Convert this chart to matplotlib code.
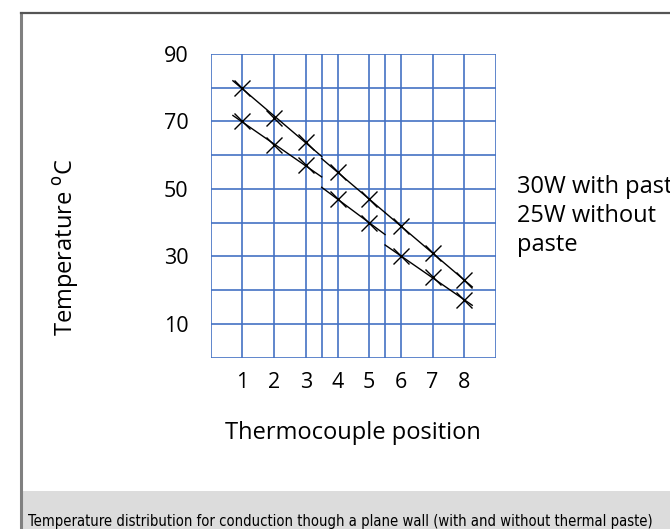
import numpy as np
import matplotlib.pyplot as plt
from matplotlib.patches import Rectangle
from matplotlib.lines import Line2D

# thermocouple positions and temperatures (deg C)
positions = [1, 2, 3, 4, 5, 6, 7, 8]
temp_paste = [80, 71, 64, 55, 47, 39, 31, 23]      # 30W with paste
temp_nopaste = [70, 63, 57, 47, 40, 30, 24, 17]    # 25W without paste

# wall layers: points in each layer and where its trend line runs
layer_points = [[0, 1, 2], [3, 4], [5, 6, 7]]
layer_bounds = [0.7, 3.5, 5.5, 8.25]

y_ticks = [10, 30, 50, 70, 90]
caption = 'Temperature distribution for conduction though a plane wall (with and without thermal paste)'

plt.rcParams['font.family'] = ['Open Sans', 'DejaVu Sans']

fig = plt.figure(figsize=(6.7, 5.29), dpi=100)
ax = fig.add_axes([0.3145, 0.3238, 0.4258, 0.5741])

grid_col = '#4472c4'
for v in np.arange(0, 91, 10):
    ax.axhline(v, color=grid_col, lw=1.2, zorder=1)
for v in list(range(0, 10)) + [3.5, 5.5]:
    ax.axvline(v, color=grid_col, lw=1.2, zorder=1)

x = np.array(positions)
for temps in (temp_paste, temp_nopaste):
    t = np.array(temps)
    ax.plot(x, t, linestyle='none', marker='x', ms=11, mew=1.0,
            color='black', zorder=3)
    for k, idx in enumerate(layer_points):
        slope, icpt = np.polyfit(x[idx], t[idx], 1)
        xs = np.array([layer_bounds[k], layer_bounds[k + 1]])
        ax.plot(xs, slope * xs + icpt, color='black', lw=1.0, zorder=2)

ax.set_xlim(0, 9)
ax.set_ylim(0, 90)
ax.set_xticks(positions)
ax.set_yticks(y_ticks)
ax.tick_params(length=0, labelsize=15.5)
ax.tick_params(axis='x', pad=10)
ax.tick_params(axis='y', pad=16)
for s in ax.spines.values():
    s.set_visible(False)

fig.text(0.099, 0.533, r'Temperature $^{\mathrm{o}}$C', rotation=90,
         ha='center', va='center', fontsize=17)
fig.text(0.5273, 0.181, 'Thermocouple position', ha='center', va='center',
         fontsize=17)
fig.text(0.771, 0.647, '30W with paste', ha='left', va='center', fontsize=17)
fig.text(0.771, 0.592, '25W without', ha='left', va='center', fontsize=17)
fig.text(0.771, 0.537, 'paste', ha='left', va='center', fontsize=17)

# frame and caption band
fig.patches.append(Rectangle((0.0313, 0), 0.97, 0.072, transform=fig.transFigure,
                             facecolor='#dcdcdc', edgecolor='none', zorder=0))
fig.lines.append(Line2D([0.031, 0.031], [0, 0.976], transform=fig.transFigure,
                        color='#808080', lw=2.2))
fig.lines.append(Line2D([0.031, 1.0], [0.975, 0.975], transform=fig.transFigure,
                        color='#555555', lw=1.6))
cap = fig.text(0.042, 0.006, caption, ha='left', va='baseline', fontsize=12,
               family=['DejaVu Sans'], fontstretch='condensed')
# shrink caption to fit the band width
fig.canvas.draw()
w = cap.get_window_extent().width
target = 620
if w > target:
    cap.set_fontsize(12 * target / w)

fig.savefig('out.png', dpi=100)
